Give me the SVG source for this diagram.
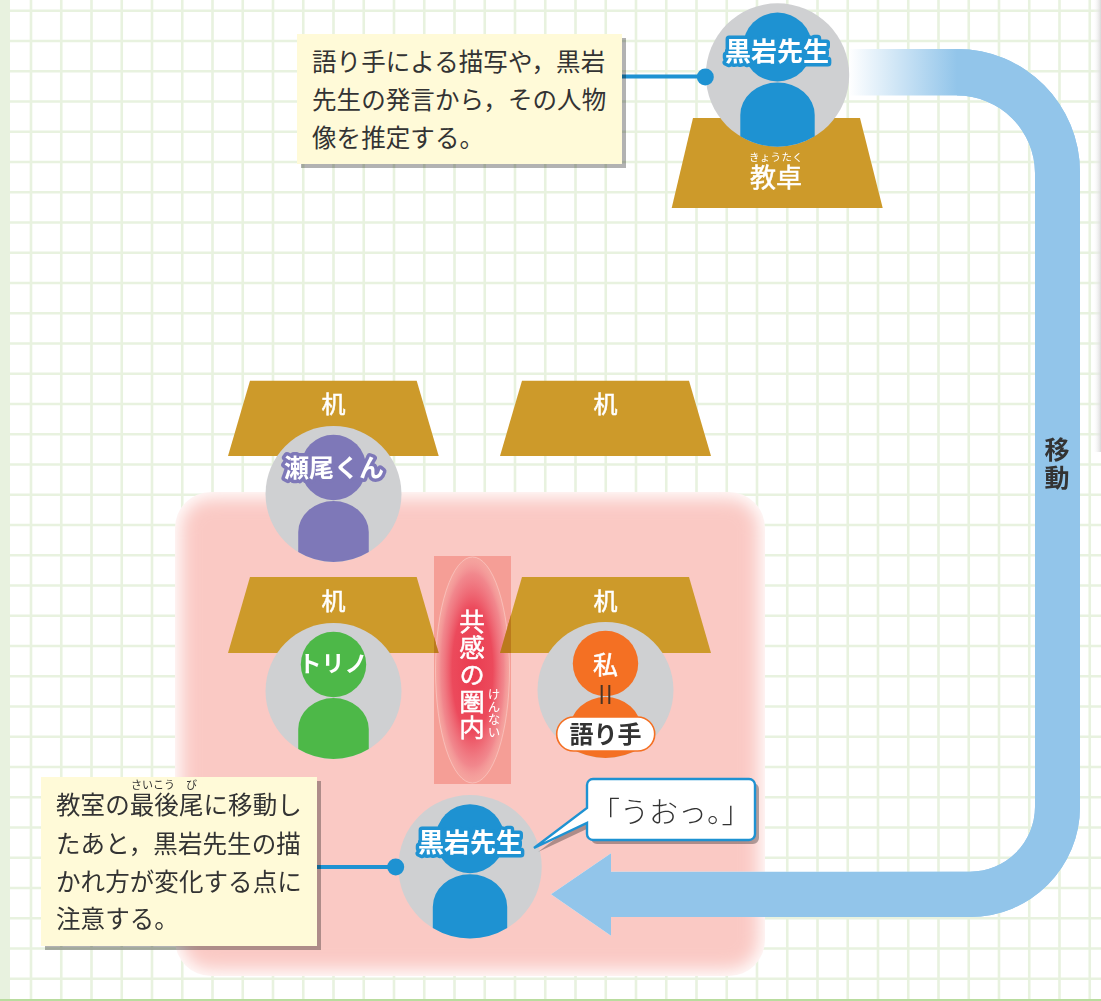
<svg xmlns="http://www.w3.org/2000/svg" width="1101" height="1001" viewBox="0 0 1101 1001">
<style>
.grid{stroke:#e8f2df;stroke-width:2.6;fill:none}
text{font-family:"Noto Sans CJK JP","Noto Sans",sans-serif}
.desk{fill:#cd9a2a}
.deskt{fill:#fff;font-size:24px;text-anchor:middle;stroke:#fff;stroke-width:.5px}
.note{fill:#fffad8}
.shadow{fill:#000;opacity:.3}
.nt{fill:#333;font-size:24.5px;letter-spacing:.08px}
.ruby{fill:#333;font-size:11px}
.rubyw{fill:#fff;font-size:12.5px;text-anchor:middle}
.name{fill:#fff;font-size:26px;font-weight:700;text-anchor:middle;stroke-width:7px;stroke-linejoin:round;paint-order:stroke}
.line{stroke:#1e92d2;stroke-width:4;fill:none}
.dot{fill:#1e92d2}
.mult{mix-blend-mode:multiply}
.wedge{fill:#bb7a1c}
.v{writing-mode:vertical-rl;text-anchor:middle}
</style>
<defs>
<g id="person">
<circle cx="0" cy="0" r="71.7" fill="#cfd0d2"/>
<circle cx="0" cy="-28" r="34.5" fill="currentColor"/>
<path d="M-37.2 61.3V40A37.2 32.5 0 0 1 37.2 40V61.3A71.7 71.7 0 0 1 -37.2 61.3Z" fill="currentColor"/>
</g>
<linearGradient id="fade" gradientUnits="userSpaceOnUse" x1="849" y1="0" x2="957" y2="0">
<stop offset="0" stop-color="#fff"/><stop offset="1" stop-color="#92c5ea"/>
</linearGradient>
<linearGradient id="edge" x1="0" y1="0" x2="1" y2="0">
<stop offset="0" stop-color="#fff" stop-opacity="0"/><stop offset="1" stop-color="#d8d8d8"/>
</linearGradient>
<radialGradient id="ell" cx=".5" cy=".5" r=".5">
<stop offset="0" stop-color="#ea3c50"/><stop offset=".55" stop-color="#ec4a5c"/><stop offset=".85" stop-color="#f0808a" stop-opacity=".75"/><stop offset="1" stop-color="#f6b0ae" stop-opacity=".35"/>
</radialGradient>
<filter id="blur" x="-10%" y="-10%" width="120%" height="120%"><feGaussianBlur stdDeviation="9"/></filter>
<clipPath id="pclip"><rect x="175" y="492" width="590" height="484" rx="36"/></clipPath>
</defs>

<g id="background">
<rect width="1101" height="1001" fill="#fff"/>
<path class="grid" d="M31 0V1001M61.25 0V1001M91.5 0V1001M121.75 0V1001M152 0V1001M182.25 0V1001M212.5 0V1001M242.75 0V1001M273 0V1001M303.25 0V1001M333.5 0V1001M363.75 0V1001M394 0V1001M424.25 0V1001M454.5 0V1001M484.75 0V1001M515 0V1001M545.25 0V1001M575.5 0V1001M605.75 0V1001M636 0V1001M666.25 0V1001M696.5 0V1001M726.75 0V1001M757 0V1001M787.25 0V1001M817.5 0V1001M847.75 0V1001M878 0V1001M908.25 0V1001M938.5 0V1001M968.75 0V1001M999 0V1001M1029.25 0V1001M1059.5 0V1001M1089.75 0V1001"/>
<path class="grid" d="M0 10.75H1101M0 41H1101M0 71.25H1101M0 101.5H1101M0 131.75H1101M0 162H1101M0 192.25H1101M0 222.5H1101M0 252.75H1101M0 283H1101M0 313.25H1101M0 343.5H1101M0 373.75H1101M0 404H1101M0 434.25H1101M0 464.5H1101M0 494.75H1101M0 525H1101M0 555.25H1101M0 585.5H1101M0 615.75H1101M0 646H1101M0 676.25H1101M0 706.5H1101M0 736.75H1101M0 767H1101M0 797.25H1101M0 827.5H1101M0 857.75H1101M0 888H1101M0 918.25H1101M0 948.5H1101M0 978.75H1101"/>
<rect x="0" y="0" width="10" height="1001" fill="#e8f2df"/>
<rect x="0" y="999" width="1101" height="2" fill="#b9dc9e"/>
<rect x="1093" y="0" width="8" height="452" fill="url(#edge)"/>
</g>

<g id="empathy-panel">
<rect x="175" y="492" width="590" height="484" rx="36" fill="#fff"/>
<g clip-path="url(#pclip)"><rect x="181" y="498" width="578" height="472" rx="30" fill="#fac9c4" filter="url(#blur)"/></g>
</g>

<g id="desk-back-left"><path class="desk" d="M250 380.7H416.7L438.7 456H228Z"/><text class="deskt" x="333.5" y="413">机</text></g>
<g id="desk-back-right"><path class="desk" d="M522 380.7H689L711 456H500Z"/><text class="deskt" x="605.5" y="413">机</text></g>
<g id="desk-front-left"><path class="desk" d="M250 577H416.7L438.7 653H228Z"/><text class="deskt" x="333.5" y="610">机</text></g>
<g id="desk-front-right"><path class="desk" d="M522 577H689L711 653H500Z"/><text class="deskt" x="605.5" y="610">机</text></g>
<g id="desk-teacher"><path class="desk" d="M693 118H860L882.7 208H671.7Z"/>
<text x="776" y="161" fill="#fff" font-size="10.5" letter-spacing=".3" text-anchor="middle">きょうたく</text>
<text class="deskt" x="776" y="187" style="font-size:26px">教卓</text></g>

<g id="connectors">
<path d="M849 49H957A123 123 0 0 1 1080 172V807A110 110 0 0 1 970 917H611V935.7L551 894.3L611 853.3V871.7H970A65 65 0 0 0 1035 807V173A78 78 0 0 0 957 95.5H849Z" fill="url(#fade)"/>
<path d="M957 49A123 123 0 0 1 1080 172V807A110 110 0 0 1 970 917H611V935.7L551 894.3L611 853.3V871.7H970A65 65 0 0 0 1035 807V173A78 78 0 0 0 957 95.5Z" fill="#92c5ea"/>
<text x="1057" y="459" fill="#333" font-size="25" font-weight="700" text-anchor="middle">移</text>
<text x="1057" y="487" fill="#333" font-size="25" font-weight="700" text-anchor="middle">動</text>
</g>

<g id="empathy-circle">
<rect class="mult" x="434" y="556" width="77" height="228" fill="#fac9c3"/>
<ellipse cx="472.5" cy="670" rx="37" ry="113" fill="url(#ell)" stroke="#fbd0cc" stroke-opacity=".6" stroke-width="1"/>
<path class="wedge" d="M511 615L500 653H511Z"/>
<path class="wedge" d="M434 637L438.7 653H434Z"/>
<text class="v" x="472" y="675" fill="#fff" stroke="#fff" stroke-width=".5" font-size="25.5" letter-spacing="1.2">共感の圏内</text>
<text class="rubyw v" x="494" y="713">けんない</text>
</g>

<g id="node-teacher-top">
<use href="#person" transform="translate(777.5 75)" color="#1e92d2"/>
<text class="name" x="777" y="61" stroke="#1e92d2">黒岩先生</text>
</g>
<g id="node-seo">
<use href="#person" transform="translate(333.5 494) scale(.948)" color="#7e78b8"/>
<text class="name" x="334" y="476.5" stroke="#7e78b8" style="font-size:25px">瀬尾くん</text>
</g>
<g id="node-torino">
<use href="#person" transform="translate(333.5 691) scale(.948)" color="#4db848"/>
<text x="333" y="672" fill="#fff" font-size="23" font-weight="700" text-anchor="middle">トリノ</text>
</g>
<g id="node-watashi">
<use href="#person" transform="translate(605.5 690) scale(.948)" color="#f47023"/>
<text class="deskt" x="605.5" y="674" style="font-size:25px">私</text>
<path d="M601.7 685V704M609.3 685V704" stroke="#4a3424" stroke-width="2" fill="none"/>
<rect x="556.7" y="717" width="98" height="34" rx="17" fill="#fff" stroke="#f47023" stroke-width="1.6"/>
<text x="605.5" y="743" fill="#333" font-size="24" font-weight="700" text-anchor="middle">語り手</text>
</g>
<g id="node-teacher-bottom">
<use href="#person" transform="translate(470 866.7)" color="#1e92d2"/>
<text class="name" x="470" y="852" stroke="#1e92d2">黒岩先生</text>
</g>

<g id="leaders">
<path class="line" d="M622 76.5H705"/><circle class="dot" cx="705.3" cy="77" r="8.5"/>
<path class="line" d="M317 867H396"/><circle class="dot" cx="395.7" cy="867" r="8.5"/>
</g>

<g id="note-top">
<rect class="shadow" x="301" y="38" width="325" height="130"/>
<rect class="note" x="297" y="34" width="325" height="130"/>
<text class="nt" x="312" y="70.5">語り手による描写や，黒岩</text>
<text class="nt" x="312" y="108.5">先生の発言から，その人物</text>
<text class="nt" x="312" y="146.5">像を推定する。</text>
</g>
<g id="note-bottom">
<rect class="shadow" x="45" y="781" width="276" height="169"/>
<rect class="note" x="41" y="777" width="276" height="169"/>
<text class="ruby" x="131" y="788.5">さいこう<tspan x="186">び</tspan></text>
<text class="nt" x="56" y="814">教室の最後尾に移動し</text>
<text class="nt" x="56" y="852.5">たあと，黒岩先生の描</text>
<text class="nt" x="56" y="890.5">かれ方が変化する点に</text>
<text class="nt" x="56" y="928">注意する。</text>
</g>
<g id="speech-bubble">
<path class="shadow" transform="translate(4 4)" d="M593 779H749a6 6 0 0 1 6 6V834a6 6 0 0 1 -6 6H593a6 6 0 0 1 -6 -6V823L534 848L587 808V785a6 6 0 0 1 6 -6Z"/>
<path d="M593 779H749a6 6 0 0 1 6 6V834a6 6 0 0 1 -6 6H593a6 6 0 0 1 -6 -6V823L534 848L587 808V785a6 6 0 0 1 6 -6Z" fill="#fff" stroke="#1e92d2" stroke-width="2.4"/>
<text x="591" y="823" fill="#333" font-size="29" font-weight="300">「うおっ。」</text>
</g>
</svg>
